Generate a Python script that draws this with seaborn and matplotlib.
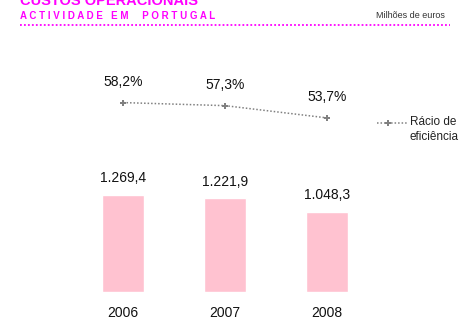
import matplotlib
matplotlib.use("Agg")
import matplotlib.pyplot as plt
import seaborn as sns
import pandas as pd
from matplotlib.lines import Line2D

years = ["2006", "2007", "2008"]
costs = [1269.4, 1221.9, 1048.3]
cost_labels = ["1.269,4", "1.221,9", "1.048,3"]
ratio = [58.2, 57.3, 53.7]
ratio_labels = ["58,2%", "57,3%", "53,7%"]

sns.set_theme(style="white")
plt.rcParams["font.family"] = ["Liberation Sans", "DejaVu Sans"]

W, H = 470, 320
fig = plt.figure(figsize=(W / 100, H / 100), dpi=100)

# axes placed in pixel units
left, bottom, width, height = 72, 28.3, 306, 200
ax = fig.add_axes([left / W, bottom / H, width / W, height / H])

df = pd.DataFrame({"year": years, "cost": costs})
sns.barplot(data=df, x="year", y="cost", color="#FFC2D0", width=0.41,
            saturation=1, ax=ax)
ax.set_xlim(-0.5, 2.5)
ax.set_ylim(0, 2620)
for i, (v, lab) in enumerate(zip(costs, cost_labels)):
    ax.annotate(lab, (i, v), xytext=(0, 7), textcoords="offset points",
                ha="center", va="bottom", fontsize=10, color="#111111")

line_style = dict(color="#808080", linestyle=(0, (1, 1.3)), linewidth=1.1)
marker_style = dict(marker="P", markersize=4.5, markeredgewidth=0)

ax2 = ax.twinx()
xs = list(range(len(years)))
sns.lineplot(x=xs, y=ratio, ax=ax2, legend=False, **line_style, **marker_style)
ax2.set_ylim(2.6, 61.4)
for i, (v, lab) in enumerate(zip(ratio, ratio_labels)):
    ax2.annotate(lab, (i, v), xytext=(0, 10), textcoords="offset points",
                 ha="center", va="bottom", fontsize=10, color="#111111",
                 annotation_clip=False)

for a in (ax, ax2):
    a.set_xlabel("")
    a.set_ylabel("")
    a.set_yticks([])
    for s in a.spines.values():
        s.set_visible(False)
ax.set_xticks(xs)
ax.set_xticklabels(years, fontsize=10, color="#111111")
ax.tick_params(axis="x", length=0, pad=10)

# key for the ratio line
ky = 1 - 123 / H
fig.add_artist(Line2D([377 / W, 408 / W], [ky, ky], **line_style))
fig.add_artist(Line2D([388 / W], [ky], color="#808080", linestyle="none",
                      **marker_style))
fig.text(410 / W, 1 - 129.5 / H, "Rácio de\neficiência", fontsize=8.5,
         color="#222222", ha="left", va="center", multialignment="left",
         linespacing=1.3)

# header
magenta = "#FF00FF"
fig.text(20 / W, 1 - 5 / H, "CUSTOS OPERACIONAIS", color=magenta,
         fontsize=10.5, fontweight="bold", va="baseline", ha="left")
fig.text(20 / W, 1 - 16 / H, "A C T I V I D A D E   E M     P O R T U G A L",
         color=magenta, fontsize=7, fontweight="bold", va="center", ha="left")
fig.text(445 / W, 1 - 15.5 / H, "Milhões de euros", color="#333333",
         fontsize=6.5, va="center", ha="right")
fig.add_artist(Line2D([20 / W, 450 / W], [1 - 25 / H, 1 - 25 / H],
                      color=magenta, linestyle=(0, (1, 1.2)), linewidth=1.3))

fig.savefig("out.png", dpi=100)
